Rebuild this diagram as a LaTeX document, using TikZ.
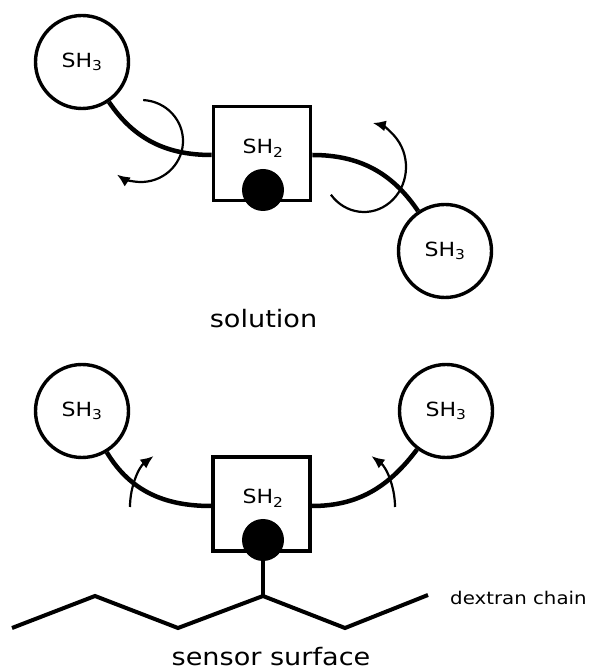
\documentclass[tikz,border=0pt]{standalone}
\usepackage{fontspec}
\setmainfont{DejaVu Sans}[FakeStretch=1.13]
\usetikzlibrary{arrows.meta, positioning, calc}

\begin{document}
\begin{tikzpicture}[x=1pt, y=1pt,
    shdomain/.style={draw, circle, line width=3.4pt, minimum size=93pt, inner sep=0pt, font=\fontsize{19.5}{22}\selectfont},
    core/.style={draw, line width=3.8pt, minimum width=97pt, minimum height=94pt, inner sep=0pt},
    tag/.style={font=\fontsize{19.5}{22}\selectfont, inner sep=0pt, anchor=base},
    ligand/.style={circle, fill=black, minimum size=42pt, inner sep=0pt},
    link/.style={line width=4.5pt},
    spin/.style={line width=2.2pt, -{Latex[length=13pt, width=11pt]}},
    caption/.style={font=\fontsize{24}{28}\selectfont, inner sep=0pt, anchor=base}]
  \useasboundingbox (0,0) rectangle (590,670);

  % solution
  \node[shdomain] (sh3a) at (82,608) {SH\textsubscript{3}};
  \node[core] (sh2a) at (262,516.5) {};
  \node[tag] (sh2aText) at (263,516) {SH\textsubscript{2}};
  \node[ligand] (lig1) at (263,480) {};
  \node[shdomain] (sh3b) at (445,419) {SH\textsubscript{3}};
  \draw[link] (sh3a.-56) to[out=-56, in=180] ([yshift=-1.5pt]sh2a.west);
  \draw[link] ([yshift=-1.5pt]sh2a.east) to[out=0, in=124] (sh3b.124);
  \draw[spin] (141,529) ++(87:42 and 41) arc[start angle=87, end angle=-125, x radius=42, y radius=41];
  \draw[spin] (364,503) ++(-142:42 and 45) arc[start angle=-142, end angle=78, x radius=42, y radius=45];
  \node[caption] (sol) at (263.5,342) {solution};

  % sensor surface
  \node[shdomain] (sh3c) at (82,259) {SH\textsubscript{3}};
  \node[core] (sh2b) at (261.5,166) {};
  \node[tag] (sh2bText) at (263,166) {SH\textsubscript{2}};
  \node[ligand] (lig2) at (263,130) {};
  \node[shdomain] (sh3d) at (446,259) {SH\textsubscript{3}};
  \draw[link] (sh3c.-59) to[out=-59, in=180] ([yshift=-2pt]sh2b.west);
  \draw[link] ([yshift=-2pt]sh2b.east) to[out=0, in=233] (sh3d.233);
  \draw[spin] (130,163) arc[start angle=180, end angle=122, x radius=50, y radius=60];
  \draw[spin] (395,163) arc[start angle=0, end angle=58, x radius=50, y radius=60];

  \coordinate (branch) at (263,74);
  \draw[line width=4pt] (lig2) -- (branch);
  \draw[line width=4pt] (12,42) -- (95,74) -- (178,42) -- (branch) -- (345,42) -- (428,75);
  \node[font=\fontsize{17.5}{20}\selectfont, anchor=base west, inner sep=0pt] (dex) at (450,65) {dextran chain};
  \node[caption] (surf) at (271,5) {sensor surface};
\end{tikzpicture}
\end{document}
